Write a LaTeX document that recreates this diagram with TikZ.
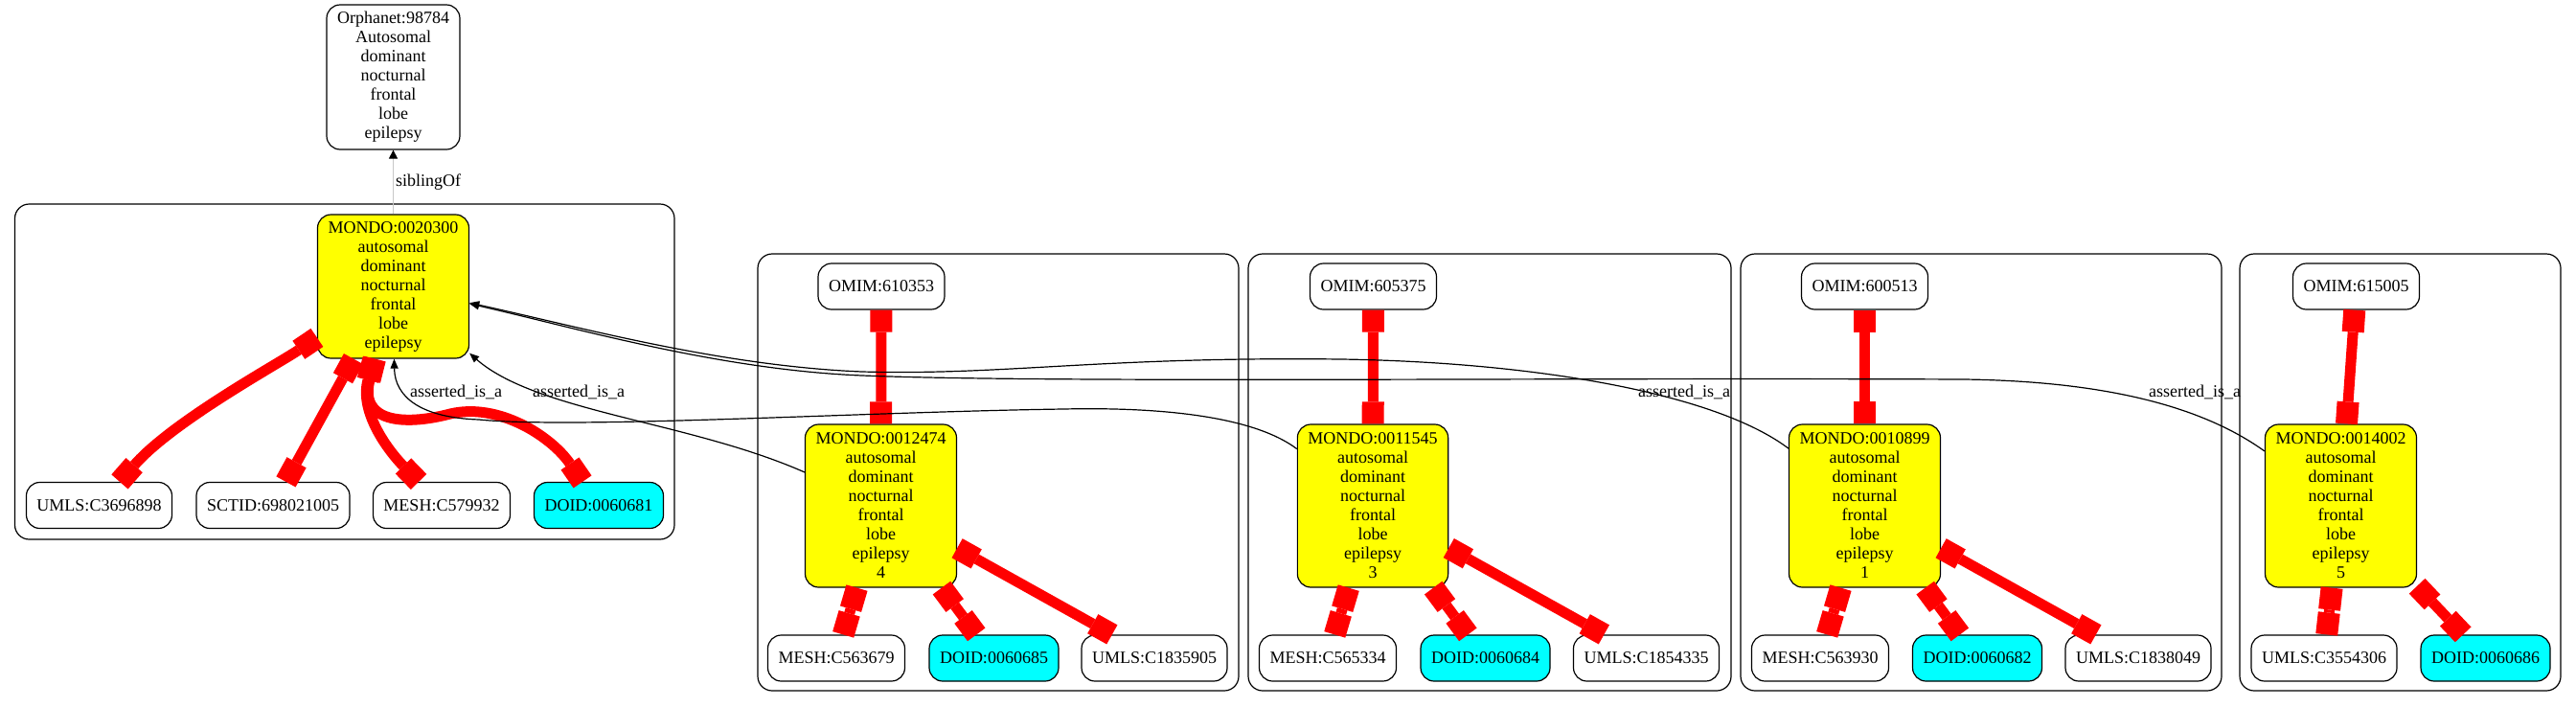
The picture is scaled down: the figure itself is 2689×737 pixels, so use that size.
\documentclass[tikz,border=0pt]{standalone}
\usepackage{fontspec}
\setmainfont{Liberation Serif}
\usetikzlibrary{arrows.meta}
\definecolor{gvyellow}{RGB}{255,255,0}
\definecolor{gvcyan}{RGB}{0,255,255}
\definecolor{gvred}{RGB}{255,0,0}
\newcommand\gvfont{\fontsize{18}{20}\selectfont}
\tikzset{
  gnode/.style={draw, line width=1.2pt, rounded corners=14pt, inner xsep=11pt, inner ysep=0pt,
    minimum height=48pt, font=\gvfont, align=center},
  mondo/.style={gnode, fill=gvyellow, minimum height=170pt},
  mondotop/.style={gnode, fill=gvyellow, minimum height=150pt},
  doid/.style={gnode, fill=gvcyan},
  rededge/.style={draw=gvred, line width=11pt,
    {Square[length=23pt,width=23pt,line width=0pt]}-{Square[length=23pt,width=23pt,line width=0pt]}},
  isa/.style={draw=black, line width=1.2pt, -{Triangle[length=10pt,width=8pt]}},
  sib/.style={draw=black!22, line width=0.8pt, -{Triangle[length=9pt,width=9pt,color=black]}},
  cluster/.style={draw, line width=1.2pt, rounded corners=15pt},
  elabel/.style={font=\gvfont, anchor=base, inner sep=0pt},
}
\begin{document}
\begin{tikzpicture}[x=1pt,y=-1pt]
\useasboundingbox[fill=white] (0,0) rectangle (2689,737);
% clusters
\draw[cluster] (15.5,213) rectangle (704,563);
\draw[cluster] (791,265) rectangle (1293,721);
\draw[cluster] (1303,265) rectangle (1807,721);
\draw[cluster] (1817,265) rectangle (2319,721);
\draw[cluster] (2338,265) rectangle (2673,721);
% top node
\node[gnode, minimum height=151pt] (orph) at (410.5,80.5) {Orphanet:98784\\Autosomal\\dominant\\nocturnal\\frontal\\lobe\\epilepsy};
% cluster 1
\node[mondotop] (m1) at (410.5,299) {MONDO:0020300\\autosomal\\dominant\\nocturnal\\frontal\\lobe\\epilepsy};
\node[gnode] (u1) at (103.5,527.5) {UMLS:C3696898};
\node[gnode] (s1) at (285,527.5) {SCTID:698021005};
\node[gnode] (me1) at (461,527.5) {MESH:C579932};
\node[doid] (d1) at (625,527.5) {DOID:0060681};
% cluster 2
\node[gnode] (o2) at (920,299) {OMIM:610353};
\node[mondo] (m2) at (919.5,528) {MONDO:0012474\\autosomal\\dominant\\nocturnal\\frontal\\lobe\\epilepsy\\4};
\node[gnode] (me2) at (873,687) {MESH:C563679};
\node[doid] (d2) at (1037.5,687) {DOID:0060685};
\node[gnode] (u2) at (1205,687) {UMLS:C1835905};
% cluster 3
\node[gnode] (o3) at (1433.5,299) {OMIM:605375};
\node[mondo] (m3) at (1433,528) {MONDO:0011545\\autosomal\\dominant\\nocturnal\\frontal\\lobe\\epilepsy\\3};
\node[gnode] (me3) at (1386,687) {MESH:C565334};
\node[doid] (d3) at (1550.5,687) {DOID:0060684};
\node[gnode] (u3) at (1718.5,687) {UMLS:C1854335};
% cluster 4
\node[gnode] (o4) at (1946.5,299) {OMIM:600513};
\node[mondo] (m4) at (1946.5,528) {MONDO:0010899\\autosomal\\dominant\\nocturnal\\frontal\\lobe\\epilepsy\\1};
\node[gnode] (me4) at (1900,687) {MESH:C563930};
\node[doid] (d4) at (2064,687) {DOID:0060682};
\node[gnode] (u4) at (2232,687) {UMLS:C1838049};
% cluster 5
\node[gnode] (o5) at (2459.5,299) {OMIM:615005};
\node[mondo] (m5) at (2443.5,528) {MONDO:0014002\\autosomal\\dominant\\nocturnal\\frontal\\lobe\\epilepsy\\5};
\node[gnode] (u5) at (2426,687) {UMLS:C3554306};
\node[doid] (d5) at (2594.5,687) {DOID:0060686};
% siblingOf
\draw[sib] (m1) -- (orph);
\node[elabel, anchor=base west] (lsib) at (413,194) {siblingOf};
% red edges cluster 1
\draw[rededge] (m1) .. controls (290,380) and (180,440) .. (u1);
\draw[rededge] (m1) -- (s1);
\draw[rededge] (m1) .. controls (375,430) and (405,470) .. (me1);
\draw[rededge] (m1) .. controls (375,440) and (420,445) .. (470,432) .. controls (520,420) and (575,455) .. (d1);
% red edges clusters 2-5
\draw[rededge] (o2) -- (m2);
\draw[rededge] (m2) -- (me2);
\draw[rededge] (m2) -- (d2);
\draw[rededge] (m2) -- (u2);
\draw[rededge] (o3) -- (m3);
\draw[rededge] (m3) -- (me3);
\draw[rededge] (m3) -- (d3);
\draw[rededge] (m3) -- (u3);
\draw[rededge] (o4) -- (m4);
\draw[rededge] (m4) -- (me4);
\draw[rededge] (m4) -- (d4);
\draw[rededge] (m4) -- (u4);
\draw[rededge] (o5) -- (m5);
\draw[rededge] (m5) -- (u5);
\draw[rededge] (m5) -- (d5);
% asserted_is_a edges
\draw[isa] (m2) .. controls (720,440) and (560,430) .. (m1);
\draw[isa] (m3) .. controls (1305,432) and (1200,425) .. (1110,427) .. controls (900,430) and (600,448) .. (500,438) .. controls (440,436) and (412,415) .. (m1);
\draw[isa] (m4) .. controls (1790,410) and (1600,378) .. (1400,375) .. controls (1150,372) and (1050,392) .. (900,388) .. controls (750,382) and (600,340) .. (m1);
\draw[isa] (m5) .. controls (2300,425) and (2200,398) .. (2050,396) .. controls (1600,394) and (1100,400) .. (900,392) .. controls (750,386) and (600,342) .. (m1);
\node[elabel] (l1) at (604,414) {asserted\_is\_a};
\node[elabel] (l2) at (476,414) {asserted\_is\_a};
\node[elabel] (l3) at (1758,414) {asserted\_is\_a};
\node[elabel] (l4) at (2291,414) {asserted\_is\_a};
\end{tikzpicture}
\end{document}
